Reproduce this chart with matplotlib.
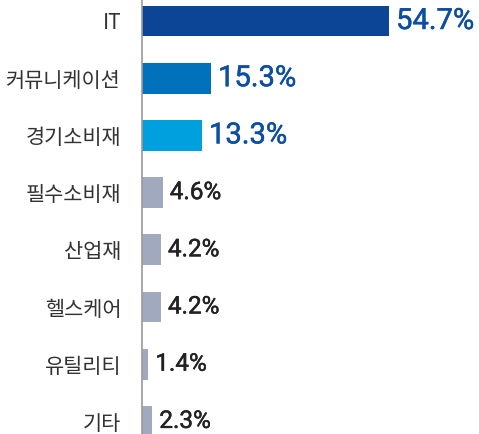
import matplotlib
matplotlib.use("Agg")
import matplotlib.pyplot as plt
import matplotlib.patheffects as pe

sectors = ["IT", "커뮤니케이션", "경기소비재", "필수소비재", "산업재", "헬스케어", "유틸리티", "기타"]
weights = [54.7, 15.3, 13.3, 4.6, 4.2, 4.2, 1.4, 2.3]
bar_colors = ["#0c4596", "#0072bc", "#00a0de", "#a0a9bd", "#a0a9bd", "#a0a9bd", "#a0a9bd", "#a0a9bd"]

fig = plt.figure(figsize=(4.79, 4.34), dpi=100)
ax = fig.add_axes([142 / 479, 0, 1 - 142 / 479, 1])

ypos = list(range(len(sectors)))
ax.barh(ypos, weights, height=0.54, color=bar_colors, left=0)

ax.set_xlim(0, 74.6)
ax.set_ylim(7.22, -0.367)

for i, v in enumerate(weights):
    if i < 3:
        c, fs = "#0b4ea2", 21
    else:
        c, fs = "#222222", 17.5
    ax.annotate(f"{v}%", (v, i), xytext=(5, 0), textcoords="offset points",
                va="center", ha="left", fontsize=fs, color=c, family="Roboto",
                path_effects=[pe.withStroke(linewidth=0.35, foreground=c)])

ax.set_yticks(ypos)
ax.set_yticklabels(sectors, family=["Noto Sans CJK KR", "DejaVu Sans"], fontsize=15, color="#333333")
ax.tick_params(axis="y", length=0, pad=15)
ax.set_xticks([])

for s in ["top", "right", "bottom"]:
    ax.spines[s].set_visible(False)
ax.spines["left"].set_color("#999999")
ax.spines["left"].set_linewidth(1.2)

fig.savefig("out.png", dpi=100)
